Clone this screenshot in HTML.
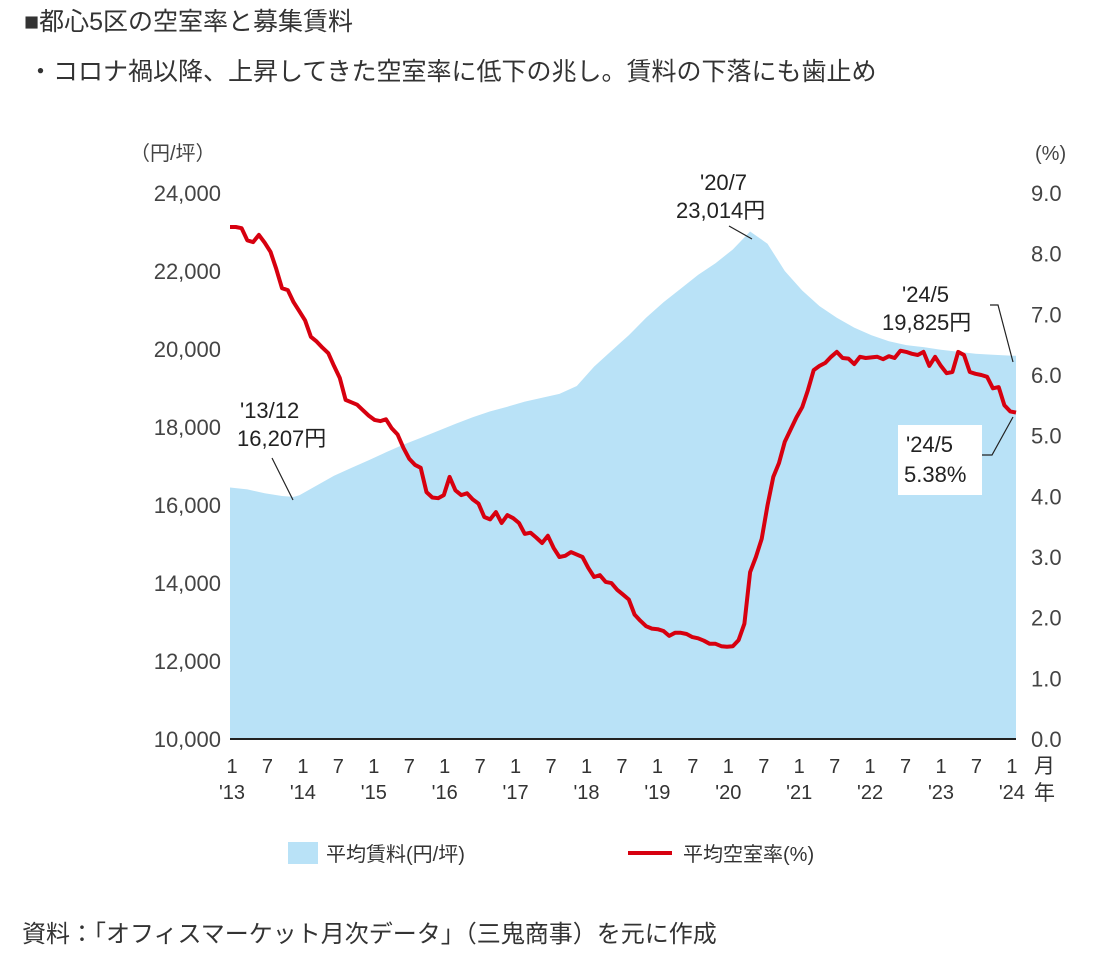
<!DOCTYPE html>
<html><head><meta charset="utf-8"><style>
body{margin:0;background:#fff;}
svg{display:block;font-family:"Liberation Sans","Noto Sans CJK JP",sans-serif;}
</style></head><body>
<svg id="chart" width="1120" height="961" viewBox="0 0 1120 961">
<text x="24" y="30" font-size="25" fill="#333">■都心5区の空室率と募集賃料</text>
<text x="28" y="80" font-size="25" fill="#333">・コロナ禍以降、上昇してきた空室率に低下の兆し。賃料の下落にも歯止め</text>
<text x="130" y="160" font-size="20" fill="#444">（円/坪）</text>
<text x="1035" y="160" font-size="20" fill="#444">(%)</text>
<g id="area"></g>
<g id="line"></g>
<g id="axes"></g>
<g>
<text x="240" y="418" font-size="22" fill="#222">'13/12</text>
<text x="237" y="446" font-size="22" fill="#222">16,207円</text>
<line x1="272" y1="458" x2="293" y2="500" stroke="#222" stroke-width="1.2"/>
</g>
<g>
<text x="700" y="190" font-size="22" fill="#222">'20/7</text>
<text x="676" y="218" font-size="22" fill="#222">23,014円</text>
<line x1="729" y1="226" x2="752" y2="239" stroke="#222" stroke-width="1.2"/>
</g>
<g>
<text x="902" y="302" font-size="22" fill="#222">'24/5</text>
<text x="882" y="330" font-size="22" fill="#222">19,825円</text>
<polyline points="990,305 998,305 1013,362" fill="none" stroke="#222" stroke-width="1.2"/>
</g>
<g>
<rect x="898" y="425" width="84" height="70" fill="#fff"/>
<text x="906" y="452" font-size="22" fill="#222">'24/5</text>
<text x="904" y="482" font-size="22" fill="#222">5.38%</text>
<polyline points="982,455 992,455 1013,417" fill="none" stroke="#222" stroke-width="1.2"/>
</g>
<g>
<rect x="288" y="842" width="30" height="22" fill="#b9e2f7"/>
<text x="326" y="861" font-size="20" fill="#333">平均賃料(円/坪)</text>
<line x1="628" y1="853" x2="672" y2="853" stroke="#d7000f" stroke-width="4"/>
<text x="683" y="861" font-size="20" fill="#333">平均空室率(%)</text>
</g>
<text x="22" y="942" font-size="24" fill="#333">資料：「オフィスマーケット月次データ」（三鬼商事）を元に作成</text>
</svg>
<script>
const rentMonths=[0,3,6,9,11,12,15,18,21,24,27,30,33,36,39,42,45,48,51,54,57,60,63,66,69,72,75,78,81,84,87,90,93,96,99,102,105,108,111,114,117,120,123,126,129,132,135,136];
const rentValues=[16450,16400,16300,16230,16207,16250,16500,16750,16950,17150,17350,17550,17720,17900,18080,18250,18400,18520,18650,18750,18850,19050,19550,19950,20350,20800,21200,21550,21900,22200,22550,23014,22700,22000,21500,21100,20800,20550,20350,20200,20100,20050,19980,19930,19880,19850,19830,19825];
const vacancyValues=[8.44,8.44,8.42,8.22,8.19,8.31,8.18,8.03,7.75,7.43,7.40,7.20,7.05,6.90,6.63,6.55,6.45,6.36,6.15,5.95,5.59,5.55,5.51,5.42,5.33,5.26,5.24,5.27,5.12,5.02,4.80,4.62,4.52,4.47,4.07,3.98,3.97,4.02,4.32,4.10,4.02,4.05,3.95,3.88,3.66,3.62,3.74,3.56,3.69,3.64,3.56,3.38,3.40,3.32,3.23,3.35,3.15,3.00,3.02,3.08,3.04,3.00,2.82,2.67,2.70,2.59,2.57,2.46,2.38,2.30,2.05,1.95,1.86,1.82,1.81,1.78,1.70,1.75,1.75,1.73,1.68,1.66,1.62,1.57,1.57,1.53,1.52,1.53,1.63,1.90,2.75,3.00,3.30,3.85,4.32,4.55,4.90,5.10,5.30,5.47,5.75,6.08,6.15,6.20,6.30,6.38,6.28,6.27,6.18,6.30,6.28,6.29,6.30,6.26,6.31,6.28,6.40,6.38,6.35,6.33,6.38,6.15,6.30,6.15,6.03,6.05,6.38,6.33,6.05,6.02,6.00,5.97,5.78,5.80,5.50,5.40,5.38];
const leftTicks=["10,000","12,000","14,000","16,000","18,000","20,000","22,000","24,000"];
const rightTicks=["0.0","1.0","2.0","3.0","4.0","5.0","6.0","7.0","8.0","9.0"];
const monthTickLabels=["1","7"];
const yearLabels=["'13","'14","'15","'16","'17","'18","'19","'20","'21","'22","'23","'24"];

const NS="http://www.w3.org/2000/svg";
const X0=230,X1=1016,LASTM=136,YB=739,YT=193;
const xm=m=>X0+(X1-X0)*m/LASTM;
const yRent=v=>YB-(v-10000)/14000*(YB-YT);
const yVac=v=>YB-v/9*(YB-YT);
function mk(tag,attrs,parent){const e=document.createElementNS(NS,tag);for(const k in attrs)e.setAttribute(k,attrs[k]);parent.appendChild(e);return e;}

const area=document.getElementById('area');
let d="M"+xm(0)+","+YB;
rentMonths.forEach((m,i)=>{d+=" L"+xm(m).toFixed(1)+","+yRent(rentValues[i]).toFixed(1);});
d+=" L"+xm(LASTM)+","+YB+" Z";
const ap=mk('path',{d:d,fill:"#b9e2f7"},area);



const line=document.getElementById('line');
const pts=vacancyValues.map((v,i)=>xm(i).toFixed(1)+","+yVac(v).toFixed(1)).join(" ");
const lp=mk('polyline',{points:pts,fill:"none",stroke:"#d7000f","stroke-width":4,"stroke-linejoin":"round"},line);



const axes=document.getElementById('axes');
const base=mk('line',{x1:X0,y1:YB,x2:X1,y2:YB,stroke:"#222","stroke-width":2},axes);


leftTicks.forEach((t,i)=>{
  const e=mk('text',{x:221,y:yRent(10000+i*2000)+8,"font-size":22,fill:"#444","text-anchor":"end"},axes);
  e.textContent=t;
  
  
});
rightTicks.forEach((t,i)=>{
  const e=mk('text',{x:1031,y:yVac(i)+8,"font-size":22,fill:"#444"},axes);
  e.textContent=t;
  
  
});
const YX=232,YSTEP=70.9;
yearLabels.forEach((t,i)=>{
  for(let k=0;k<2;k++){
    if(i===yearLabels.length-1&&k===1)continue;
    const e=mk('text',{x:YX+i*YSTEP+k*YSTEP/2,y:773,"font-size":20,fill:"#333","text-anchor":"middle"},axes);
    e.textContent=monthTickLabels[k];
    
    
  }
  const y=mk('text',{x:YX+i*YSTEP,y:799,"font-size":20,fill:"#333","text-anchor":"middle"},axes);
  y.textContent=t;
  
  
});
const mo=mk('text',{x:1034,y:773,"font-size":21,fill:"#333"},axes);
mo.textContent="月";


const yr=mk('text',{x:1034,y:800,"font-size":21,fill:"#333"},axes);
yr.textContent="年";


</script>
</body></html>
